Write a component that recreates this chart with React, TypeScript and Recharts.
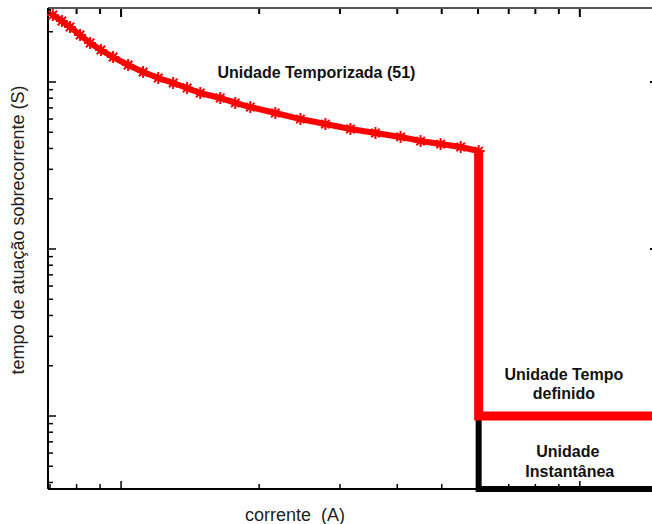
import { Line, LineChart, ReferenceDot, ReferenceLine, XAxis, YAxis } from "recharts";

// inverse-time curve (51)
const curveCurrent = [
  0.71, 0.743, 0.774, 0.814, 0.856, 0.904, 0.961, 1.036, 1.117, 1.205, 1.299, 1.393, 1.488,
  1.645, 1.774, 1.913, 2.169, 2.46, 2.789, 3.162, 3.585, 4.067, 4.497, 4.971, 5.499, 6.018,
];
const curveTime = [
  251.8, 231.9, 213.5, 191.1, 171.2, 155.4, 141.1, 126.4, 114.8, 105.7, 98.6, 92.1, 85.9,
  80.2, 74.9, 70.8, 65.2, 60.0, 56.0, 52.3, 49.5, 46.9, 44.3, 42.5, 40.8, 38.6,
];

// definite time step and instantaneous step
const definiteCurrent = [6.018, 6.018, 14.88];
const definiteTime = [38.6, 1, 1];
const instantCurrent = [6.018, 6.018, 14.88];
const instantTime = [1, 0.3655, 0.3655];

const xDomain = [0.693, 14.88];
const yDomain = [0.3655, 277.4];
const xTicks = [0.7, 0.8, 0.9, 1, 2, 3, 4, 5, 6, 7, 8, 9, 10];
const yTicks = [
  0.4, 0.5, 0.6, 0.7, 0.8, 0.9, 1, 2, 3, 4, 5, 6, 7, 8, 9, 10, 20, 30, 40, 50, 60, 70, 80, 90,
  100, 200,
];

const zip = (xs: number[], ys: number[]) => xs.map((x, i) => ({ x, y: ys[i] }));
const curveData = zip(curveCurrent, curveTime);
const definiteData = zip(definiteCurrent, definiteTime);
const instantData = zip(instantCurrent, instantTime);

const FONT = "'Liberation Sans', Arial, sans-serif";

const isMajor = (v: number) => {
  const l = Math.log10(v);
  return Math.abs(l - Math.round(l)) < 1e-6;
};
const tickLen = (v: number) => (isMajor(v) ? 8 : 5);

function XTick(props: any) {
  const { x, y, payload } = props;
  return <line x1={x} y1={y} x2={x} y2={y - tickLen(payload.value)} stroke="#000" strokeWidth={1.5} />;
}

function YTick(props: any) {
  const { x, y, payload } = props;
  return <line x1={x} y1={y} x2={x + tickLen(payload.value)} y2={y} stroke="#000" strokeWidth={1.5} />;
}

// mirrored ticks on the top and right frame, drawn from reference lines
const topTick = (v: number) => (p: any) => {
  const top = Math.min(p.y1, p.y2);
  return (
    <line x1={p.x1} y1={top} x2={p.x1} y2={top + tickLen(v) + 1} stroke="#000" strokeWidth={2} />
  );
};
const rightTick = (v: number) => (p: any) => {
  const right = Math.max(p.x1, p.x2);
  return (
    <line x1={right} y1={p.y1} x2={right - tickLen(v) - 1} y2={p.y1} stroke="#000" strokeWidth={2} />
  );
};

function StarDot(props: any) {
  const { cx, cy } = props;
  if (cx == null || cy == null) return null;
  const r = 6;
  const d = r * 0.7;
  return (
    <g stroke="#ff0000" strokeWidth={2}>
      <line x1={cx - r} y1={cy} x2={cx + r} y2={cy} />
      <line x1={cx - d} y1={cy - d} x2={cx + d} y2={cy + d} />
      <line x1={cx - d} y1={cy + d} x2={cx + d} y2={cy - d} />
      <line x1={cx} y1={cy - r} x2={cx} y2={cy + r} />
    </g>
  );
}

const bold = { fill: "#111", fontSize: 16, fontWeight: "bold", fontFamily: FONT };

function Note({ x, y, text }: { x: number; y: number; text: string }) {
  return (
    <ReferenceDot
      xAxisId="bottom"
      yAxisId="left"
      x={x}
      y={y}
      r={0}
      fill="none"
      stroke="none"
      label={{ value: text, position: "center", ...bold }}
    />
  );
}

export default function App() {
  return (
    <div
      style={{
        position: "absolute",
        left: 0,
        top: 0,
        width: 652,
        height: 524,
        overflow: "hidden",
        background: "#fff",
        fontFamily: FONT,
      }}
    >
      <LineChart width={680} height={524} margin={{ top: 7, right: 21, bottom: 34, left: 47 }}>
        <XAxis
          xAxisId="bottom"
          type="number"
          dataKey="x"
          scale="log"
          domain={xDomain}
          ticks={xTicks}
          interval={0}
          height={1}
          tickSize={0}
          tickMargin={0}
          tickLine={false}
          axisLine={{ stroke: "#000", strokeWidth: 2 }}
          tick={XTick}
        />
        <XAxis
          xAxisId="top"
          orientation="top"
          type="number"
          dataKey="x"
          scale="log"
          domain={xDomain}
          height={1}
          tickLine={false}
          tick={false}
          axisLine={{ stroke: "#555", strokeWidth: 2 }}
        />
        <YAxis
          yAxisId="left"
          type="number"
          dataKey="y"
          scale="log"
          domain={yDomain}
          ticks={yTicks}
          interval={0}
          width={1}
          tickSize={0}
          tickMargin={0}
          tickLine={false}
          axisLine={{ stroke: "#000", strokeWidth: 2 }}
          tick={YTick}
        />
        {xTicks.map((v) => (
          <ReferenceLine
            key={`tx${v}`}
            xAxisId="bottom"
            yAxisId="left"
            x={v}
            shape={topTick(v)}
          />
        ))}
        {yTicks.map((v) => (
          <ReferenceLine
            key={`ry${v}`}
            xAxisId="bottom"
            yAxisId="left"
            y={v}
            shape={rightTick(v)}
          />
        ))}
        <Line
          xAxisId="bottom"
          yAxisId="left"
          data={instantData}
          dataKey="y"
          stroke="#000"
          strokeWidth={6}
          dot={false}
          isAnimationActive={false}
        />
        <Line
          xAxisId="bottom"
          yAxisId="left"
          data={definiteData}
          dataKey="y"
          stroke="#ff0000"
          strokeWidth={9}
          dot={false}
          isAnimationActive={false}
        />
        <Line
          xAxisId="bottom"
          yAxisId="left"
          data={curveData}
          dataKey="y"
          stroke="#ff0000"
          strokeWidth={6}
          dot={<StarDot />}
          isAnimationActive={false}
        />
        <Note x={2.666} y={114.8} text="Unidade Temporizada (51)" />
        <Note x={9.23} y={1.785} text="Unidade Tempo" />
        <Note x={9.23} y={1.373} text="definido" />
        <Note x={9.415} y={0.617} text="Unidade" />
        <Note x={9.51} y={0.469} text="Instantânea" />
      </LineChart>
      <svg
        width={652}
        height={524}
        style={{ position: "absolute", left: 0, top: 0, pointerEvents: "none" }}
      >
        <text
          x={18}
          y={230}
          transform="rotate(-90, 18, 230)"
          textAnchor="middle"
          dominantBaseline="central"
          fontSize={18}
          fill="#222"
          fontFamily={FONT}
        >
          tempo de atuação sobrecorrente (S)
        </text>
        <text
          x={295}
          y={515}
          textAnchor="middle"
          dominantBaseline="central"
          fontSize={18}
          fill="#222"
          fontFamily={FONT}
          style={{ whiteSpace: "pre" }}
        >
          {"corrente  (A)"}
        </text>
      </svg>
    </div>
  );
}
